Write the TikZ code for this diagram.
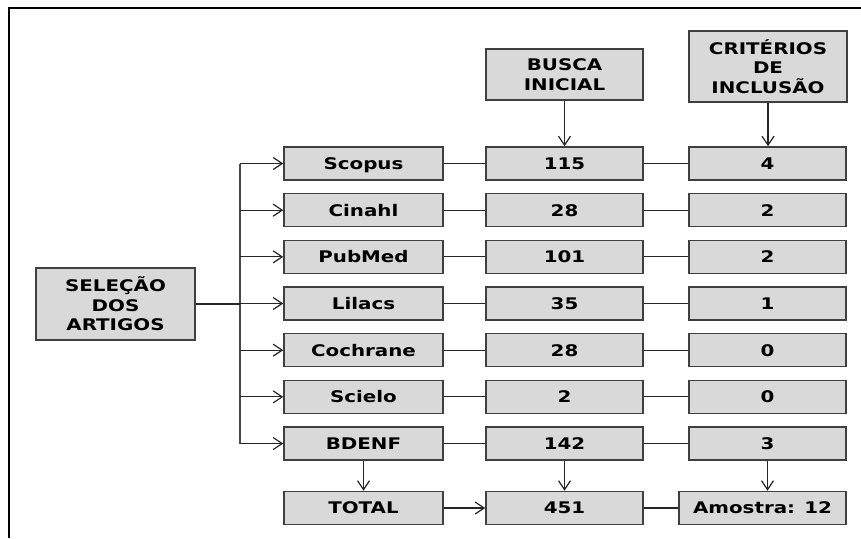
\documentclass[tikz,border=0pt]{standalone}
\usepackage{fontspec}
\setmainfont[FakeStretch=1.24]{DejaVu Sans}
\usetikzlibrary{arrows.meta}
\definecolor{boxfill}{HTML}{D9D9D9}
\definecolor{boxdraw}{HTML}{3F3F3F}
\definecolor{linecol}{HTML}{262626}
\definecolor{trunkcol}{HTML}{4A4A4A}
\begin{document}
\begin{tikzpicture}[x=1pt,y=-1pt,
  box/.style={draw=boxdraw, fill=boxfill, line width=1.5pt, inner sep=0pt,
    font=\fontsize{16}{19.5}\selectfont\bfseries, align=center, minimum height=33pt},
  rowbox/.style={box, text height=11.7pt, text depth=0pt},
  conn/.style={draw=linecol, line width=1.2pt},
  arr/.style={conn, -{Straight Barb[length=9pt,width=12pt,line width=1.2pt]}}
]
\useasboundingbox (0,0) rectangle (861,538);
% frame
\draw[line width=2pt, black] (9,538) -- (9,8) -- (861,8);

% headers
\node[box, minimum width=157pt, minimum height=51pt] (busca) at (564.5,74.5) {BUSCA\\INICIAL};
\node[box, minimum width=158pt, minimum height=71pt] (crit) at (768,66.5) {CRITÉRIOS\\DE\\INCLUSÃO};
\node[box, minimum width=159pt, minimum height=72pt] (sel) at (115.5,304) {SELEÇÃO\\DOS\\ARTIGOS};

% rows
\foreach \i/\na/\nb/\nc in {1/Scopus/115/4, 2/Cinahl/28/2, 3/PubMed/101/2, 4/Lilacs/35/1, 5/Cochrane/28/0, 6/Scielo/2/0, 7/BDENF/142/3}{
  \pgfmathsetmacro{\yy}{163.5+46.67*(\i-1)}
  \node[rowbox, minimum width=159pt] (a\i) at (363.5,\yy) {\na};
  \node[rowbox, minimum width=157pt] (b\i) at (564.5,\yy) {\nb};
  \node[rowbox, minimum width=157pt] (c\i) at (767.5,\yy) {\nc};
  \draw[conn] (a\i) -- (b\i);
  \draw[conn] (b\i) -- (c\i);
}
\node[rowbox, minimum width=159pt] (tot) at (363.5,508) {TOTAL};
\node[rowbox, minimum width=157pt] (n451) at (564.5,508) {451};
\node[rowbox, minimum width=167pt] (amo) at (762.5,508) {Amostra: 12};

% trunk
\coordinate (trunk) at (240,0);
\draw[draw=trunkcol, line width=2pt] (a1.west -| trunk) -- (a7.west -| trunk);
\draw[draw=linecol, line width=2.2pt] (sel.east) -- (sel.east -| trunk);
\foreach \i in {1,...,7}{
  \draw[arr] (a\i.west -| trunk) -- (a\i.west);
}
% header arrows
\draw[arr] (busca.south) -- (b1.north);
\draw[arr] (crit.south) -- (crit.south |- c1.north);
% bottom arrows
\draw[arr] (a7.south) -- (tot.north);
\draw[arr] (b7.south) -- (n451.north);
\draw[arr] (c7.south) -- (c7.south |- amo.north);
\draw[arr] (tot) -- (n451);
\draw[conn] (n451) -- (amo);
\end{tikzpicture}
\end{document}
